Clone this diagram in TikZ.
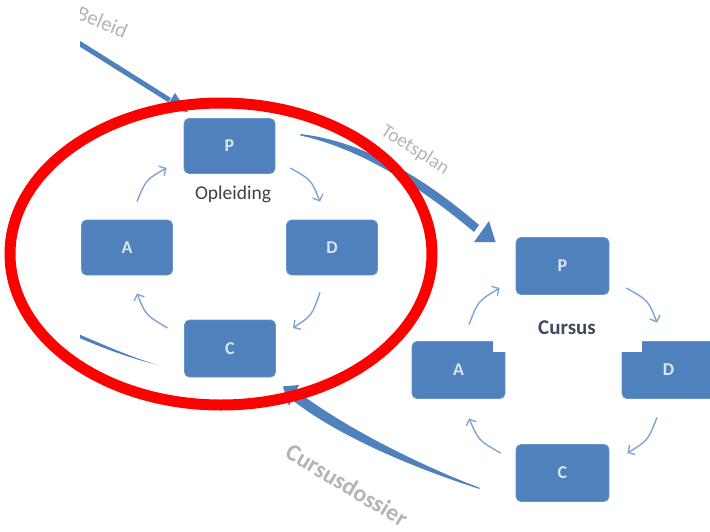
\documentclass[tikz,border=0pt]{standalone}
\usepackage{fontspec}
\setmainfont{Carlito}
\usetikzlibrary{arrows.meta,calc}
\definecolor{boxblue}{HTML}{4F81BD}
\definecolor{boxtext}{HTML}{DCE6F2}
\definecolor{cycblue}{HTML}{7FA5D5}
\definecolor{flowblue}{HTML}{4F81BD}
\definecolor{lblgray}{HTML}{B4B4B4}
\definecolor{ringred}{HTML}{FF0000}
\definecolor{titlegray}{HTML}{3F3F3F}
\definecolor{cursustxt}{HTML}{3D4B5F}
\begin{document}
\begin{tikzpicture}[x=1pt,y=-1pt,
 pdcabox/.style={rectangle, rounded corners=5pt, fill=boxblue, draw=boxblue!85!white, line width=0.8pt,
   minimum width=91pt, minimum height=55pt, inner sep=0pt, text=boxtext,
   font=\fontsize{18}{18}\selectfont\bfseries},
 cbox/.style={pdcabox, minimum width=93pt, minimum height=57pt},
 cyc/.style={draw=cycblue, line width=1.4pt, -{Straight Barb[length=5pt,width=11pt,line width=1.4pt]}},
 flow/.style={fill=flowblue},
 flowlabel/.style={text=lblgray, inner sep=0pt},
]
\useasboundingbox (0,0) rectangle (710,531);

% ---------- Opleiding cycle ----------
\node[pdcabox] (oP) at (229.5,146) {P};
\node[pdcabox] (oA) at (127,247.5) {A};
\node[pdcabox] (oD) at (332,247.5) {D};
\node[pdcabox, minimum height=57pt] (oC) at (230,348.5) {C};
\node[font=\fontsize{19.5}{19.5}\selectfont, text=titlegray] (oT) at (233,194) {Opleiding};

\draw[cyc] ($(oA.north)+(10,-18)$) .. controls ($(oA.north)+(19,-40)$) .. ($(oP.west)+(-17,22)$);
\draw[cyc] ($(oP.east)+(15,22)$) .. controls ($(oP.east)+(36,34)$) .. ($(oD.north)+(-12,-18)$);
\draw[cyc] ($(oD.south)+(-12,17)$) .. controls ($(oD.south)+(-20,40)$) .. ($(oC.east)+(17,-20.5)$);
\draw[cyc] ($(oC.west)+(-16.5,-20.5)$) .. controls ($(oC.west)+(-38.5,-33.5)$) .. ($(oA.south)+(10,18)$);

% ---------- Cursus cycle ----------
\node[cbox] (cP) at (562.5,266) {P};
\node[cbox] (cA) at (458.5,370) {A};
\node[cbox] (cD) at (668.5,370) {D};
\node[cbox] (cC) at (562.5,473) {C};
\node[font=\fontsize{21}{21}\selectfont\bfseries, text=cursustxt] (cT) at (567,328) {Cursus};
\fill[white] ($(cA.north east)+(-12,-2)$) rectangle ($(cA.north east)+(2,11)$);
\fill[white] ($(cD.north west)+(-2,-2)$) rectangle ($(cD.north west)+(20,11)$);

\draw[cyc] ($(cA.north)+(10.5,-16.5)$) .. controls ($(cA.north)+(19.5,-40)$) .. ($(cP.west)+(-16,22)$);
\draw[cyc] ($(cP.east)+(17,22)$) .. controls ($(cP.east)+(39,34.5)$) .. ($(cD.north)+(-11.5,-18.5)$);
\draw[cyc] ($(cD.south)+(-11.5,18.5)$) .. controls ($(cD.south)+(-20.5,41.5)$) .. ($(cC.east)+(18,-20)$);
\draw[cyc] ($(cC.west)+(-15,-20)$) .. controls ($(cC.west)+(-37,-32.5)$) .. ($(cA.south)+(10.5,19.5)$);

% ---------- Toetsplan flow (oP -> cP) ----------
\coordinate (tpS) at ($(oP.east)+(25,-12)$);
\coordinate (tpT) at ($(cP.west)+(-20,-24)$);
\fill[flow] (tpS) .. controls (360,141) and (420,174) .. (479,225) -- (474,232)
  .. controls (417,184) and (358,148) .. ($(tpS)+(0,1.5)$) -- cycle;
\fill[flow] (489,221) -- (tpT) -- (474,242) -- cycle;
\node[flowlabel, font=\fontsize{19.5}{19.5}\selectfont, rotate=-32] (tpL) at (415,150) {Toetsplan};

% ---------- Cursusdossier flow (cC -> oC) ----------
\coordinate (cdS) at ($(cC.west)+(-36,16)$);
\coordinate (cdT) at ($(oC.south east)+(7,9)$);
\fill[flow] (cdS) .. controls (420,470) and (340,438) .. (291,399) -- (297,391)
  .. controls (345,428) and (422,466) .. ($(cdS)+(0,-1.2)$) -- cycle;
\fill[flow] (299,385) -- (cdT) -- (289,406) -- cycle;
\node[flowlabel, font=\fontsize{24}{24}\selectfont\bfseries, rotate=-31] (cdL) at (347,485) {Cursusdossier};

% ---------- clipped flows on the left edge ----------
\begin{scope}
\clip (80,0) rectangle (710,531);
\node[flowlabel, font=\fontsize{21}{21}\selectfont, rotate=-23, anchor=base east] (blL) at (124,39) {Beleid};
\coordinate (blS) at (74,40);
\coordinate (blE) at ($(oP.north west)+(-14,-18)$);
\draw[flowblue, line width=5pt] (blS) -- (blE);
\fill[flow] (165,109) -- (188,112) -- (175,93) -- cycle;
\coordinate (llS) at ($(oC.west)+(-28,16)$);
\fill[flow] (llS) .. controls (130,358) and (105,349) .. (76,336.5) -- (76,333)
  .. controls (105,345.5) and (130,356.5) .. (llS) -- cycle;
\end{scope}

% ---------- red ring ----------
\draw[ringred, line width=11pt] (221,254) ellipse [x radius=211, y radius=151];
\end{tikzpicture}
\end{document}
